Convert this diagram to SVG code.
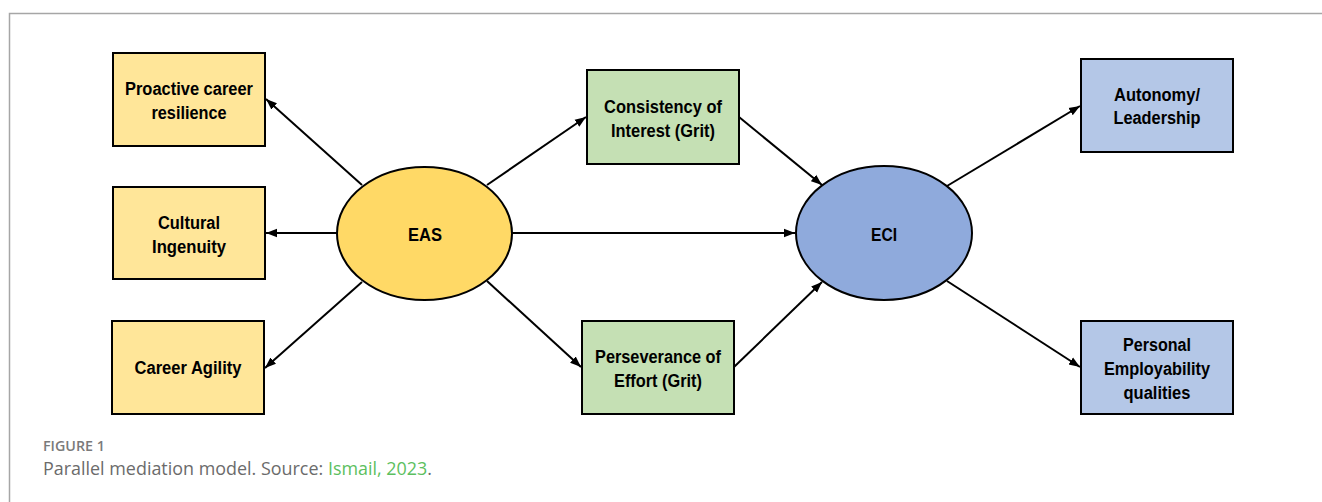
<svg xmlns="http://www.w3.org/2000/svg" width="1322" height="502" viewBox="0 0 1322 502">
<style>
.frame{stroke:#a6a6a6;stroke-width:1.5;fill:none}
.box{stroke:#000;stroke-width:2}
.yel{fill:#FFE699}
.grn{fill:#C5E0B4}
.blu{fill:#B4C7E7}
.lbl{font-family:"Liberation Sans",Arial,sans-serif;font-weight:bold;font-size:18px;fill:#000;text-anchor:middle}
.edge{stroke:#000;stroke-width:2;fill:none;marker-end:url(#ah)}
.cap1{font-family:"Open Sans","Liberation Sans",sans-serif;font-weight:600;font-size:13.5px;fill:#7a7a7a}
.cap2{font-family:"Open Sans","Liberation Sans",sans-serif;font-size:18px;fill:#6b6b6b}
.link{fill:#5cbf60}
</style>
<defs>
<marker id="ah" markerUnits="userSpaceOnUse" markerWidth="12" markerHeight="10" viewBox="0 0 12 10" refX="11" refY="5" orient="auto">
<path d="M0,0.8 L11,5 L0,9.2 z" fill="#000"/>
</marker>
</defs>
<path class="frame" d="M9.5,502 V13.5 H1322"/>

<g id="connectors">
<line class="edge" x1="362" y1="185" x2="266" y2="99"/>
<line class="edge" x1="337" y1="233" x2="266" y2="233"/>
<line class="edge" x1="362" y1="282" x2="265" y2="368"/>
<line class="edge" x1="487" y1="185" x2="586" y2="117"/>
<line class="edge" x1="512" y1="233" x2="795" y2="233"/>
<line class="edge" x1="487" y1="281" x2="581" y2="367"/>
<line class="edge" x1="739" y1="117" x2="822" y2="185"/>
<line class="edge" x1="734" y1="367" x2="822" y2="282"/>
<line class="edge" x1="947" y1="186" x2="1080" y2="106"/>
<line class="edge" x1="947" y1="281" x2="1080" y2="367"/>
</g>

<g id="proactive">
<rect class="box yel" x="113" y="53" width="152" height="93"/>
<text class="lbl" x="189" y="95" textLength="128" lengthAdjust="spacingAndGlyphs">Proactive career</text>
<text class="lbl" x="189" y="119" textLength="75" lengthAdjust="spacingAndGlyphs">resilience</text>
</g>
<g id="cultural">
<rect class="box yel" x="113" y="187" width="152" height="92"/>
<text class="lbl" x="189" y="229" textLength="62" lengthAdjust="spacingAndGlyphs">Cultural</text>
<text class="lbl" x="189" y="253" textLength="74" lengthAdjust="spacingAndGlyphs">Ingenuity</text>
</g>
<g id="agility">
<rect class="box yel" x="112" y="321" width="152" height="93"/>
<text class="lbl" x="188" y="374" textLength="107" lengthAdjust="spacingAndGlyphs">Career Agility</text>
</g>
<g id="eas">
<ellipse cx="424.5" cy="233.5" rx="87.5" ry="66.5" fill="#FFD966" stroke="#000" stroke-width="2"/>
<text class="lbl" x="425" y="241" textLength="34" lengthAdjust="spacingAndGlyphs">EAS</text>
</g>
<g id="consistency">
<rect class="box grn" x="587" y="70" width="152" height="94"/>
<text class="lbl" x="663" y="113" textLength="118" lengthAdjust="spacingAndGlyphs">Consistency of</text>
<text class="lbl" x="663" y="137" textLength="104" lengthAdjust="spacingAndGlyphs">Interest (Grit)</text>
</g>
<g id="perseverance">
<rect class="box grn" x="582" y="321" width="152" height="93"/>
<text class="lbl" x="658" y="363" textLength="126" lengthAdjust="spacingAndGlyphs">Perseverance of</text>
<text class="lbl" x="658" y="387" textLength="88" lengthAdjust="spacingAndGlyphs">Effort (Grit)</text>
</g>
<g id="eci">
<ellipse cx="884" cy="233" rx="88" ry="67" fill="#8FAADC" stroke="#000" stroke-width="2"/>
<text class="lbl" x="884" y="241" textLength="26" lengthAdjust="spacingAndGlyphs">ECI</text>
</g>
<g id="autonomy">
<rect class="box blu" x="1081" y="59" width="152" height="93"/>
<text class="lbl" x="1157" y="101" textLength="86" lengthAdjust="spacingAndGlyphs">Autonomy/</text>
<text class="lbl" x="1157" y="124" textLength="87" lengthAdjust="spacingAndGlyphs">Leadership</text>
</g>
<g id="personal">
<rect class="box blu" x="1081" y="321" width="152" height="93"/>
<text class="lbl" x="1157" y="351" textLength="68" lengthAdjust="spacingAndGlyphs">Personal</text>
<text class="lbl" x="1157" y="375" textLength="106" lengthAdjust="spacingAndGlyphs">Employability</text>
<text class="lbl" x="1157" y="399" textLength="67" lengthAdjust="spacingAndGlyphs">qualities</text>
</g>

<g id="caption">
<text class="cap1" x="43" y="451" textLength="62" lengthAdjust="spacingAndGlyphs">FIGURE 1</text>
<text class="cap2" x="43" y="475" textLength="389" lengthAdjust="spacingAndGlyphs">Parallel mediation model. Source: <tspan class="link">Ismail, 2023</tspan>.</text>
</g>
</svg>
